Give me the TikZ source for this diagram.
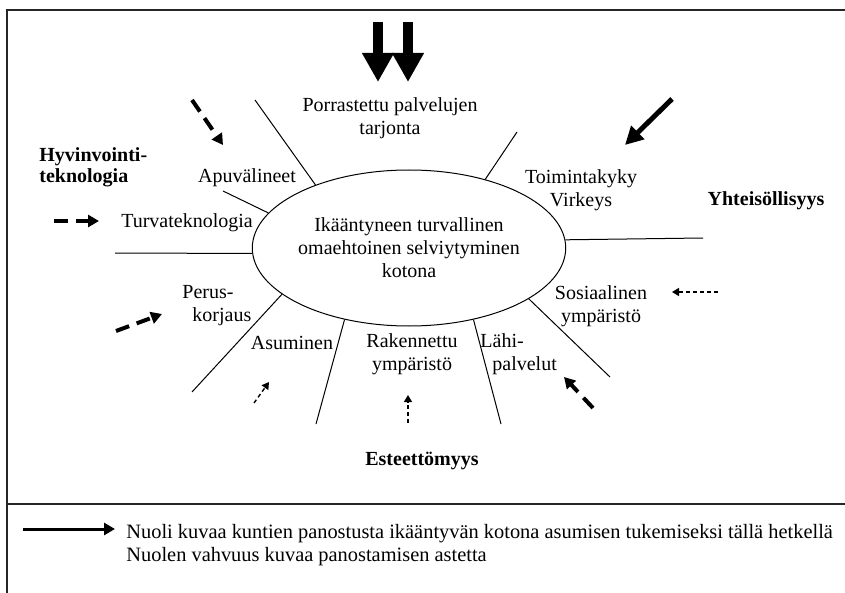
\documentclass[tikz,border=0pt]{standalone}
\usepackage{fontspec}
\setmainfont{Liberation Serif}
\usetikzlibrary{arrows.meta,shapes.geometric}

\tikzset{
  lbl/.style={inner sep=0pt, align=center},
  boldlbl/.style={inner sep=0pt, align=left, font=\fontsize{10}{10.5}\selectfont\bfseries},
  spoke/.style={line width=0.5pt},
  frame/.style={line width=0.9pt, black!85},
  bigarr/.style={line width=5pt, -{Triangle[length=14.5pt,width=15pt]}},
  solarr/.style={line width=2.5pt, -{Triangle[length=9pt,width=9pt]}},
  dasharr/.style={line width=2pt, dash pattern=on 7pt off 4pt,
                  -{Triangle[length=5.5pt,width=6pt]}},
  thinarr/.style={line width=0.7pt, dash pattern=on 2pt off 1.5pt,
                  -{Triangle[length=3.5pt,width=4pt]}},
}

\begin{document}
\begin{tikzpicture}[x=0.5pt, y=-0.5pt, font=\fontsize{10}{11.5}\selectfont]
    \useasboundingbox (0,0) rectangle (845,593);
    % frame and legend divider
    \draw[frame] (7,593) -- (7,10) -- (845,10);
    \draw[frame] (7,504) -- (845,504);

    % centre
    \node[draw, ellipse, line width=0.5pt, minimum width=154pt,
          minimum height=78pt, lbl] (c) at (409,248)
          {Ikääntyneen turvallinen\\omaehtoinen selviytyminen\\kotona};

    % labels round the centre
    \node[lbl] (porras) at (390,118) {Porrastettu palvelujen\\tarjonta};
    \node[lbl] (apuv) at (247,178) {Apuvälineet};
    \node[lbl] (turva) at (187,223) {Turvateknologia};
    \node[lbl] (toim) at (581,190) {Toimintakyky\\Virkeys};
    \node[lbl] (sos) at (601,306) {Sosiaalinen\\ympäristö};
    \node[lbl, align=left, anchor=west] (lahi) at (480,354)
          {Lähi-\\\hspace*{6pt}palvelut};
    \node[lbl] (rak) at (412,354) {Rakennettu\\ympäristö};
    \node[lbl] (asum) at (292,343) {Asuminen};
    \node[lbl, align=left, anchor=west] (perus) at (182,306)
          {Perus-\\\hspace*{5pt}korjaus};

    % headings
    \node[boldlbl, anchor=west] (hyvin) at (39,167) {Hyvinvointi-\\teknologia};
    \node[boldlbl] (yht) at (766,201) {Yhteisöllisyys};
    \node[boldlbl] (este) at (422,461) {Esteettömyys};

    % spokes
    \coordinate (s1) at (255,100);
    \coordinate (s2) at (223,191);
    \coordinate (s3) at (115,253);
    \coordinate (s4) at (517,132);
    \coordinate (s5) at (703,238);
    \coordinate (s6) at (192,392);
    \coordinate (s7) at (316,424);
    \coordinate (s8) at (501,424);
    \coordinate (s9) at (610,377);
    \draw[spoke] (c.146) -- (s1);
    \draw[spoke] (c.166) -- (s2);
    \draw[spoke] (c.182) -- (s3);
    \draw[spoke] (c.42) -- (s4);
    \draw[spoke] (c.3) -- (s5);
    \draw[spoke] (c.200) -- (s6);
    \draw[spoke] (c.228) -- (s7);
    \draw[spoke] (c.312) -- (s8);
    \draw[spoke] (c.337) -- (s9);

    % arrows
    \coordinate (t1) at (378,22);  \coordinate (h1) at (378,82);
    \coordinate (t2) at (408,22);  \coordinate (h2) at (408,82);
    \draw[bigarr] (t1) -- (h1);
    \draw[bigarr] (t2) -- (h2);
    \coordinate (t3) at (672,99);  \coordinate (h3) at (625,145);
    \draw[solarr] (t3) -- (h3);
    \coordinate (t4) at (192,100); \coordinate (h4) at (223,145);
    \draw[dasharr] (t4) -- (h4);
    \coordinate (t5) at (54,221);  \coordinate (h5) at (99,221);
    \draw[dasharr] (t5) -- (h5);
    \coordinate (t6) at (116,331); \coordinate (h6) at (162,314);
    \draw[dasharr] (t6) -- (h6);
    \coordinate (t7) at (593,408); \coordinate (h7) at (564,377);
    \draw[dasharr] (t7) -- (h7);
    \coordinate (t8) at (718,292); \coordinate (h8) at (672,292);
    \draw[thinarr] (t8) -- (h8);
    \coordinate (t9) at (254,403); \coordinate (h9) at (269,382);
    \draw[thinarr] (t9) -- (h9);
    \coordinate (t10) at (408,423); \coordinate (h10) at (408,395);
    \draw[thinarr] (t10) -- (h10);

    % legend
    \node[lbl, align=left, anchor=west, font=\fontsize{10.2}{11.5}\selectfont]
          (leg) at (126,545)
          {Nuoli kuvaa kuntien panostusta ikääntyvän kotona asumisen tukemiseksi tällä hetkellä\\
           Nuolen vahvuus kuvaa panostamisen astetta};
    \coordinate (lt) at (23,529);  \coordinate (lh) at (115,529);
    \draw[line width=1.5pt, -{Triangle[length=5.5pt,width=6pt]}] (lt) -- (lh);
\end{tikzpicture}
\end{document}
